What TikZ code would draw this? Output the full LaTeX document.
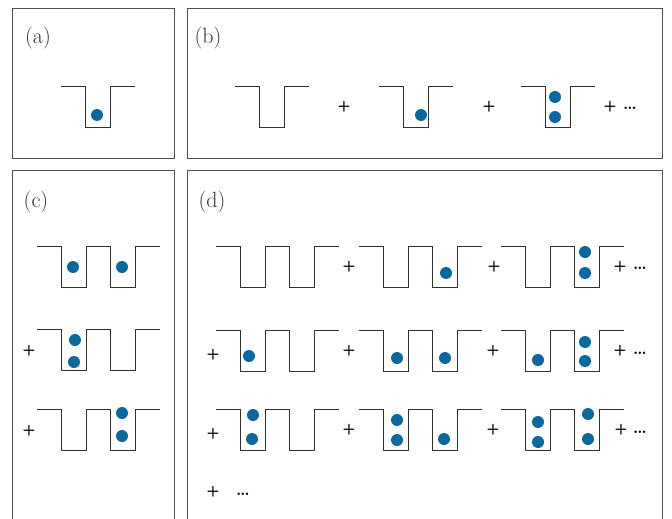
\documentclass[tikz,border=0pt]{standalone}
\usepackage{xcolor}
\definecolor{ballblue}{RGB}{10,104,160}
\definecolor{boxgray}{RGB}{80,80,80}
\definecolor{wellgray}{RGB}{50,50,50}
\tikzset{
  panel/.style={draw=boxgray, line width=0.9pt},
  wellline/.style={draw=wellgray, line width=0.9pt},
  ball/.style={fill=ballblue, draw=none},
  lbl/.style={font=\fontsize{22}{24}\selectfont, text=black!80, inner sep=0pt},
  plus/.style={font=\sffamily\bfseries\fontsize{15}{16}\selectfont, inner sep=0pt},
  dots/.style={font=\bfseries\fontsize{17}{18}\selectfont, inner sep=0pt},
  swell/.pic={\draw[wellline] (0,0) -- (24.5,0) -- (24.5,41) -- (49,41) -- (49,0) -- (73.5,0);},
  dwell/.pic={\draw[wellline] (0,0) -- (24.5,0) -- (24.5,41) -- (49,41) -- (49,0) -- (73.5,0) -- (73.5,41) -- (98,41) -- (98,0) -- (122.5,0);}
}
\newcommand{\bll}[2]{\fill[ball] (#1,#2) circle (6);}
\begin{document}
\begin{tikzpicture}[x=1pt,y=-1pt]
\clip (0,0) rectangle (672,519);
\fill[white] (0,0) rectangle (672,519);
% panels
\draw[panel] (12,8) rectangle (174,158);
\draw[panel] (187.5,8) rectangle (662,158);
\draw[panel] (12,170) rectangle (174,540);
\draw[panel] (187.5,170) rectangle (662,540);
\node[lbl] (la) at (38,38) {(a)};
\node[lbl] (lb) at (208,38) {(b)};
\node[lbl] (lc) at (36,202) {(c)};
\node[lbl] (ld) at (212,202) {(d)};
% (a)
\pic at (61,86) {swell};
\bll{97}{115}
% (b)
\pic at (235,86) {swell};
\node[plus] (pb1) at (344,107) {+};
\pic at (379,86) {swell};
\bll{421}{115}
\node[plus] (pb2) at (489,107) {+};
\pic at (521,86) {swell};
\bll{555}{97}
\bll{555}{117}
\node[plus] (pb3) at (610,107) {+};
\node[dots] (db) at (630,108) {\ldots};
% (c)
\pic at (37,246) {dwell};
\bll{73}{267}
\bll{122}{267}
\node[plus] (pc2) at (29,351) {+};
\pic at (37,329) {dwell};
\bll{75}{340}
\bll{74}{362}
\node[plus] (pc3) at (29,431) {+};
\pic at (37,409) {dwell};
\bll{122}{413}
\bll{122}{436}
% (d) row 1
\pic at (216,246) {dwell};
\node[plus] (pd11) at (349,267) {+};
\pic at (359,246) {dwell};
\bll{446}{273}
\node[plus] (pd12) at (494,267) {+};
\pic at (501,246) {dwell};
\bll{585}{252}
\bll{585}{273}
\node[plus] (pd13) at (620,267) {+};
\node[dots] (dd1) at (640,268) {\ldots};
% (d) row 2
\node[plus] (pd20) at (213,355) {+};
\pic at (216,330) {dwell};
\bll{249}{356}
\node[plus] (pd21) at (349,351) {+};
\pic at (359,330) {dwell};
\bll{397}{358}
\bll{445}{358}
\node[plus] (pd22) at (493,351) {+};
\pic at (501,330) {dwell};
\bll{538}{360}
\bll{585}{342}
\bll{585}{361}
\node[plus] (pd23) at (620,351) {+};
\node[dots] (dd2) at (640,353) {\ldots};
% (d) row 3
\node[plus] (pd30) at (213,434) {+};
\pic at (216,409) {dwell};
\bll{253}{415}
\bll{252}{439}
\node[plus] (pd31) at (349,430) {+};
\pic at (359,409) {dwell};
\bll{397}{420}
\bll{397}{440}
\bll{444}{439}
\node[plus] (pd32) at (493,430) {+};
\pic at (501,409) {dwell};
\bll{538}{422}
\bll{538}{442}
\bll{588}{414}
\bll{588}{439}
\node[plus] (pd33) at (621,430) {+};
\node[dots] (dd3) at (640,432) {\ldots};
% (d) row 4
\node[plus] (pd40) at (213,492) {+};
\node[dots] (dd4) at (243,494) {\ldots};
\end{tikzpicture}
\end{document}
